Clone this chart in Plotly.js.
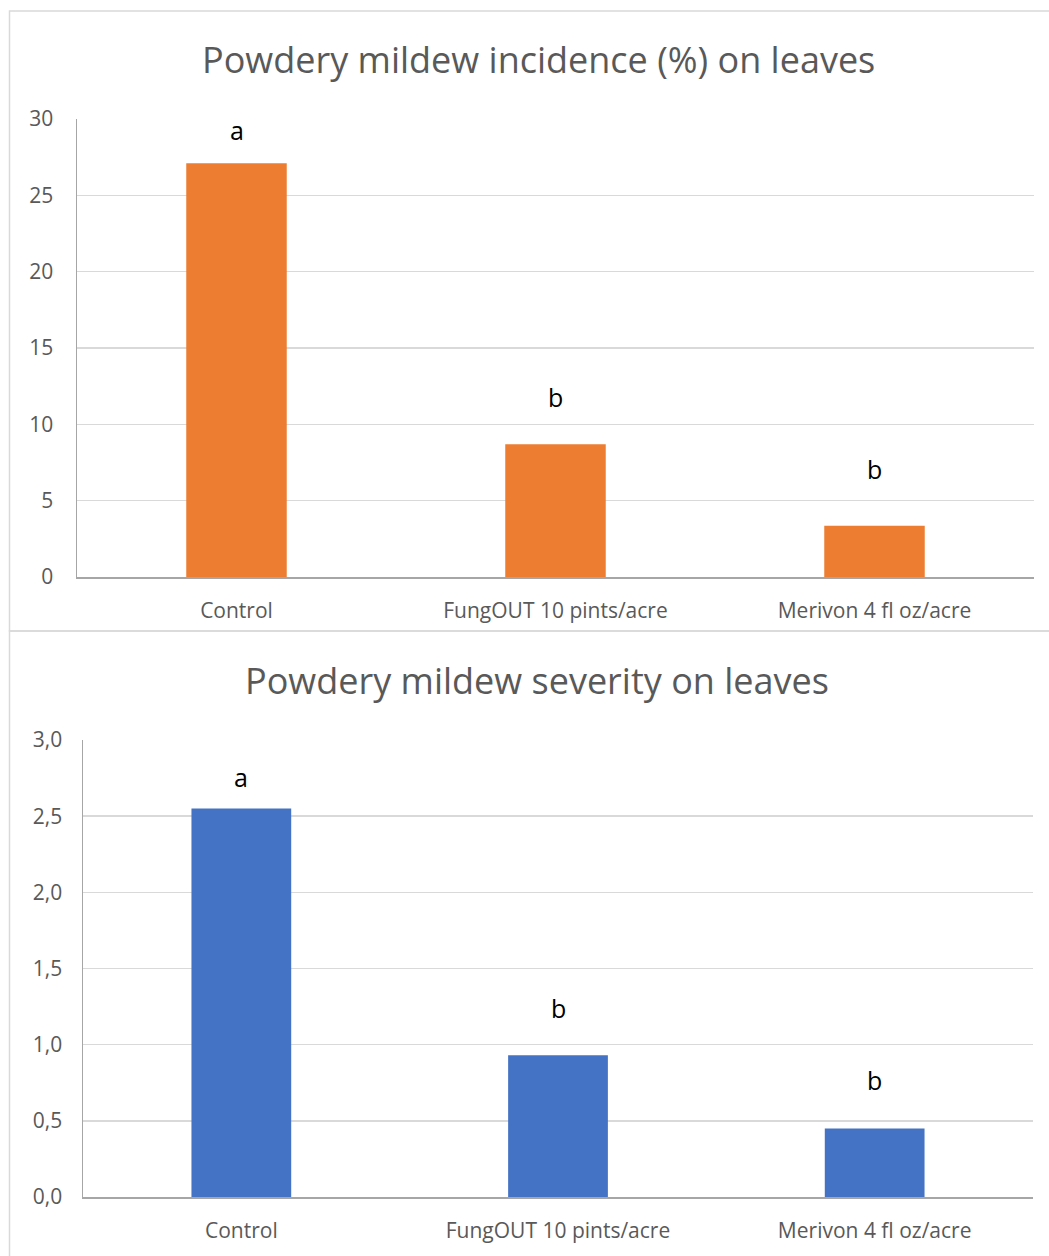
<!DOCTYPE html>
<html>
<head>
<meta charset="utf-8">
<script src="https://cdn.plot.ly/plotly-3.0.1.min.js"></script>
<style>html,body{margin:0;padding:0;background:#fff;}#chart{width:1049px;height:1256px;}</style>
</head>
<body>
<div id="chart"></div>
<script>
const categories = ["Control", "FungOUT 10 pints/acre", "Merivon 4 fl oz/acre"];
const incidence = [27.1, 8.7, 3.35];
const incidenceLetters = ["a", "b", "b"];
const incidenceLetterY = [29.3, 11.8, 7.1];
const severity = [2.55, 0.93, 0.45];
const severityLetters = ["a", "b", "b"];
const severityLetterY = [2.76, 1.24, 0.77];
const incidenceTicks = [0, 5, 10, 15, 20, 25, 30];
const severityTicks = [0, 0.5, 1.0, 1.5, 2.0, 2.5, 3.0];
const titleTop = "Powdery mildew incidence (%) on leaves";
const titleBottom = "Powdery mildew severity on leaves";

const W = 1049, H = 1256;
const px = v => v / W, py = v => 1 - v / H;
const FONT = "Open Sans, Noto Sans, sans-serif";
const GRAY = "#595959";

const traces = [
  {type: "bar", x: categories, y: incidence, xaxis: "x", yaxis: "y",
   marker: {color: "#ED7D31"}, hoverinfo: "none"},
  {type: "bar", x: categories, y: severity, xaxis: "x2", yaxis: "y2",
   marker: {color: "#4472C4"}, hoverinfo: "none"}
];

const annotations = [];
categories.forEach((c, i) => {
  annotations.push({xref: "x", yref: "y", x: c, y: incidenceLetterY[i], text: incidenceLetters[i],
    showarrow: false, yanchor: "middle", font: {family: FONT, size: 25, color: "#000"}});
  annotations.push({xref: "x2", yref: "y2", x: c, y: severityLetterY[i], text: severityLetters[i],
    showarrow: false, yanchor: "middle", font: {family: FONT, size: 25, color: "#000"}});
});
annotations.push({xref: "paper", yref: "paper", x: px(538), y: py(60), text: titleTop,
  showarrow: false, xanchor: "center", yanchor: "middle", font: {family: FONT, size: 36, color: GRAY}});
annotations.push({xref: "paper", yref: "paper", x: px(537), y: py(680), text: titleBottom,
  showarrow: false, xanchor: "center", yanchor: "middle", font: {family: FONT, size: 36, color: GRAY}});

const yCommon = {showgrid: true, gridcolor: "#d9d9d9", gridwidth: 1.5, zeroline: false,
  showline: true, linecolor: "#a6a6a6", linewidth: 1.5, ticks: "",
  tickfont: {family: FONT, size: 21, color: GRAY}, ticklabelstandoff: 18, fixedrange: true};
const xCommon = {showgrid: false, zeroline: false, showline: true, linecolor: "#a6a6a6", linewidth: 2,
  ticks: "", tickfont: {family: FONT, size: 21, color: GRAY}, fixedrange: true, ticklabelstandoff: 14};

const layout = {
  width: W, height: H, margin: {l: 0, r: 0, t: 0, b: 0},
  paper_bgcolor: "#fff", plot_bgcolor: "#fff", showlegend: false,
  separators: ",.", bargap: 0.685,
  xaxis: Object.assign({}, xCommon, {domain: [px(77), px(1034)], anchor: "y"}),
  yaxis: Object.assign({}, yCommon, {domain: [py(577), py(119)], anchor: "x",
    range: [0, 30], tickvals: incidenceTicks, tickformat: "d"}),
  xaxis2: Object.assign({}, xCommon, {domain: [px(83), px(1033)], anchor: "y2"}),
  yaxis2: Object.assign({}, yCommon, {domain: [py(1197), py(740)], anchor: "x2",
    range: [0, 3], tickvals: severityTicks, tickformat: ".1f", ticklabelstandoff: 15}),
  annotations: annotations,
  shapes: [
    {type: "rect", xref: "paper", yref: "paper", x0: px(9.5), x1: px(1060), y0: py(631), y1: py(11),
     line: {color: "#d9d9d9", width: 1.5}},
    {type: "rect", xref: "paper", yref: "paper", x0: px(9.5), x1: px(1060), y0: py(1270), y1: py(631),
     line: {color: "#d9d9d9", width: 1.5}}
  ]
};

Plotly.newPlot("chart", traces, layout, {staticPlot: true, displayModeBar: false});
</script>
</body>
</html>
